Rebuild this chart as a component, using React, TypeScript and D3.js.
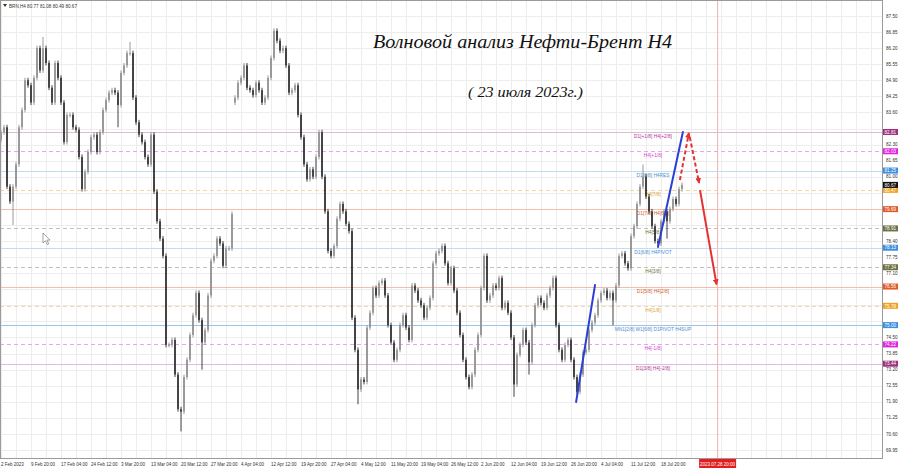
import React from "react";
import * as d3 from "d3";

// Close prices (H4 Brent), left to right
const closesFebMar = [
  82.8, 83.0, 80.6, 80.0, 80.6, 81.5, 83.0, 83.7, 84.9, 84.7,
  84.0, 85.0, 86.2, 85.3, 86.2, 85.6, 84.6, 84.0, 85.6, 85.0,
  84.0, 82.4, 83.5, 83.5, 83.0, 82.9, 81.8, 80.5, 81.2, 82.0,
  82.6, 82.7, 82.0, 82.8, 83.7, 84.1, 84.4, 84.5, 84.4, 83.9,
  85.2, 85.5, 86.0, 86.0, 84.2, 83.2, 82.7, 82.4, 81.8, 81.5,
  82.7, 80.4, 79.2, 78.5, 77.8, 74.2, 74.2, 74.4, 73.0, 71.6,
  71.5, 72.9, 73.6, 74.6, 75.4, 76.3, 75.2, 74.3, 74.8, 76.2,
  77.6, 77.8, 78.5, 78.3, 77.4, 78.1, 78.1, 79.5,
];
const closesApr = [
  84.2, 84.8, 85.0, 85.5, 84.6, 84.5, 84.3, 84.8, 84.5, 84.0,
  84.2, 85.0, 85.8, 86.9, 86.5, 86.1, 86.2, 85.5, 84.4, 84.5,
  84.7, 83.5, 82.6, 81.5, 80.9, 81.3, 81.0, 81.8, 82.8, 81.0,
  79.6, 78.0, 77.8, 78.2, 79.3, 79.9, 79.6, 79.1, 78.8,
];
const closesMayJun = [
  75.3, 74.0, 72.4, 72.8, 72.7, 74.9, 75.5, 76.5, 76.2, 76.7,
  76.8, 76.2, 75.0, 74.3, 73.6, 74.0, 75.0, 75.4, 74.9, 74.4,
  76.6, 76.4, 76.0, 75.8, 75.3, 75.7, 76.1, 77.5, 77.9, 78.0,
  78.2, 77.5, 76.7, 77.3, 76.4, 75.5, 74.6, 73.6, 72.9, 72.5,
  73.0, 74.0, 74.6, 76.5, 77.8, 76.0, 76.2, 76.6, 76.5, 76.9,
  75.7, 75.9, 75.5, 74.5, 72.6, 73.8, 74.2, 74.8, 74.3, 73.5,
  75.0, 75.8, 76.1, 75.9, 75.7, 76.2, 76.5, 76.9, 75.0, 74.0,
  73.6,
];
const closesJul = [
  74.2, 74.4, 73.6, 72.9, 72.3, 73.0, 73.9, 74.0, 74.8, 75.1,
  75.4, 76.0, 76.3, 76.4, 76.1, 76.3, 76.0, 76.6, 77.8, 77.9,
  77.5, 77.3, 78.6, 79.0, 79.9, 80.6, 81.0, 80.2, 79.6, 79.0,
  78.4, 78.3, 79.2, 79.6, 79.2, 79.7, 80.1, 79.9, 80.5, 80.67,
];
const firstOpen = 82.5;
const gapOpens: [number, number][] = [[78, 84.0]];
const wickHighs: [number, number][] = [[14, 86.65], [43, 86.45], [91, 87.0], [214, 81.5]];
const wickLows: [number, number][] = [
  [4, 79.05], [39, 83.0], [60, 70.7], [67, 73.2], [119, 71.8],
  [171, 72.1], [176, 73.0], [204, 75.0], [222, 78.5],
];

const priceTicks = [
  87.5, 86.85, 86.2, 85.55, 84.9, 84.25, 83.6, 82.95, 82.3, 81.65, 81.0, 80.35,
  79.7, 79.05, 78.4, 77.75, 77.1, 76.45, 75.8, 75.15, 74.5, 73.85, 73.2, 72.55,
  71.9, 71.25, 70.6, 69.95,
];
const timeLabels = [
  "2 Feb 2023", "9 Feb 20:00", "17 Feb 04:00", "24 Feb 12:00", "3 Mar 20:00",
  "13 Mar 04:00", "20 Mar 12:00", "27 Mar 20:00", "4 Apr 04:00", "12 Apr 12:00",
  "19 Apr 20:00", "27 Apr 04:00", "4 May 12:00", "11 May 20:00", "19 May 04:00",
  "26 May 12:00", "2 Jun 20:00", "12 Jun 04:00", "19 Jun 12:00", "26 Jun 20:00",
  "4 Jul 04:00", "11 Jul 12:00", "18 Jul 20:00",
];
const futureMarkIndex = 238.7;
const futureMarkLabel = "2023.07.28 20:00";

const levelPrices = [82.81, 82.03, 81.25, 80.47, 79.69, 78.91, 78.13, 77.34, 76.56, 75.78, 75.0, 74.22, 73.44];
const levelLabels = [
  "D1[+1/8] H4[+2/8]", "H4[+1/8]", "D1[8/8] H4RES", "H4[7/8]", "D1[7/8] H4[6/8]",
  "H4[5/8]", "D1[6/8] H4PIVOT", "H4[3/8]", "D1[5/8] H4[2/8]", "H4[1/8]",
  "MN1[2/8] W1[6/8] D1PIVOT H4SUP", "H4[-1/8]", "D1[3/8] H4[-2/8]",
];
const levelKinds = ["p", "m", "b", "o", "r", "g", "b", "g", "r", "o", "B", "m", "p"];
const currentPrice = 80.67;

// trend lines: [index1, price1, index2, price2]
const blueLines: [number, number, number, number][] = [
  [191.7, 71.89, 198.0, 76.62],
  [219.0, 78.16, 227.3, 82.81],
];
const redUp: [number, number, number, number] = [226.3, 80.87, 229.3, 82.77];
const redDownDash: [number, number, number, number] = [229.6, 82.6, 232.7, 80.75];
const redDown: [number, number, number, number] = [233.0, 80.46, 238.5, 76.65];

const kindStyle: Record<string, { line: string; box: string; text: string; dash?: string }> = {
  p: { line: "#dcbcd6", box: "#a0307e", text: "#b0359a" },
  m: { line: "#eaa6ea", box: "#e024e0", text: "#d83ad8", dash: "4,3" },
  b: { line: "#c2ddf0", box: "#3d8fe0", text: "#4a90d0" },
  B: { line: "#9cc4e8", box: "#3d8fe0", text: "#4a90d0" },
  o: { line: "#f4d6a2", box: "#f0a222", text: "#e2a232", dash: "4,3" },
  r: { line: "#f0c0ac", box: "#e25a2a", text: "#d8602c" },
  g: { line: "#c2c2ae", box: "#6c7242", text: "#6e7242", dash: "4,3" },
};

export default function App() {
  const closes = [...closesFebMar, ...closesApr, ...closesMayJun, ...closesJul];
  const n = closes.length;
  const x = d3.scaleLinear().domain([0, n - 1]).range([1, 682]);
  const y = d3.scaleLinear().domain([69.95, 87.5]).range([450, 16]);
  const plotR = 882;
  const plotB = 458;

  const bars = closes.map((c, i) => {
    let o = i === 0 ? firstOpen : closes[i - 1];
    const g = gapOpens.find((v) => v[0] === i);
    if (g) o = g[1];
    let hi = Math.max(o, c) + 0.1;
    let lo = Math.min(o, c) - 0.1;
    const wh = wickHighs.find((v) => v[0] === i);
    if (wh) hi = wh[1];
    const wl = wickLows.find((v) => v[0] === i);
    if (wl) lo = wl[1];
    return { i, o, c, hi, lo, up: c >= o };
  });

  const vGrid = d3.range(1, plotR, 15);
  const font = "Liberation Sans, Arial, sans-serif";
  const boxPrices = [...levelPrices, currentPrice];
  const visibleTicks = priceTicks.filter((p) => boxPrices.every((b) => Math.abs(y(b) - y(p)) > 5.5));

  const seg = (s: [number, number, number, number]) => ({
    x1: x(s[0]), y1: y(s[1]), x2: x(s[2]), y2: y(s[3]),
  });
  const up = seg(redUp);
  const dd = seg(redDownDash);
  const dn = seg(redDown);

  return (
    <svg width={900} height={468} style={{ position: "absolute", left: 0, top: 0, background: "#fff" }}
      xmlns="http://www.w3.org/2000/svg">
      <defs>
        <marker id="arrRed" markerWidth="6" markerHeight="6" refX="5" refY="3" orient="auto" markerUnits="userSpaceOnUse">
          <path d="M0,0 L6,3 L0,6 Z" fill="#e23232" />
        </marker>
        <clipPath id="plot"><rect x={0} y={0} width={plotR} height={plotB} /></clipPath>
      </defs>
      <rect x={0} y={0} width={900} height={468} fill="#fff" />
      {/* grid */}
      <g stroke="#ededed" strokeWidth={1}>
        {vGrid.map((gx) => (
          <line key={"v" + gx} x1={gx + 0.5} x2={gx + 0.5} y1={0} y2={plotB} />
        ))}
        {priceTicks.map((p) => (
          <line key={"h" + p} x1={0} x2={plotR} y1={Math.round(y(p)) + 0.5} y2={Math.round(y(p)) + 0.5} />
        ))}
      </g>
      {/* future marker line */}
      <line x1={x(futureMarkIndex) + 0.5} x2={x(futureMarkIndex) + 0.5} y1={0} y2={plotB} stroke="#f2b0b0" strokeWidth={1} />
      {/* levels */}
      <g clipPath="url(#plot)">
        {levelPrices.map((p, k) => {
          const st = kindStyle[levelKinds[k]];
          const ly = Math.round(y(p)) + 0.5;
          return (
            <g key={"l" + k}>
              <line x1={0} x2={plotR} y1={ly} y2={ly} stroke={st.line} strokeWidth={1} strokeDasharray={st.dash} />
              <text x={653} y={ly + 5.2} fontSize={4.8} fontFamily={font} fill={st.text} textAnchor="middle">
                {levelLabels[k]}
              </text>
            </g>
          );
        })}
      </g>
      {/* candles */}
      <g clipPath="url(#plot)">
        {bars.map((b) => {
          const cx = x(b.i);
          const col = b.up ? "#8e8e8e" : "#2e2e2e";
          const top = y(Math.max(b.o, b.c));
          const bot = y(Math.min(b.o, b.c));
          return (
            <g key={"c" + b.i}>
              <line x1={cx} x2={cx} y1={y(b.hi)} y2={y(b.lo)} stroke={col} strokeWidth={0.9} />
              <rect x={cx - 0.8} y={top} width={1.6} height={Math.max(1, bot - top)} fill={col} />
            </g>
          );
        })}
      </g>
      {/* blue trend lines */}
      {blueLines.map((s, k) => {
        const q = seg(s);
        return <line key={"bl" + k} {...q} stroke="#2a3fd6" strokeWidth={2} strokeLinecap="round" />;
      })}
      {/* red forecast */}
      <line {...up} stroke="#e23232" strokeWidth={2} strokeDasharray="4,2.5" markerEnd="url(#arrRed)" />
      <line {...dd} stroke="#e23232" strokeWidth={2} strokeDasharray="4,2.5" markerEnd="url(#arrRed)" />
      <line {...dn} stroke="#e23232" strokeWidth={2} markerEnd="url(#arrRed)" />
      {/* mouse cursor */}
      <path d="M43,233 L43,243 L45.4,240.7 L47.3,244.6 L48.8,243.9 L46.9,240.1 L50,240.1 Z" fill="#fff" stroke="#666" strokeWidth={0.6} />
      {/* title */}
      <text x={373} y={48} fontSize={19} fontStyle="italic" fontFamily="Liberation Serif, DejaVu Serif, serif" fill="#111"
        textLength={299} lengthAdjust="spacingAndGlyphs">
        Волновой анализ Нефти-Брент H4
      </text>
      <text x={468} y={97} fontSize={14} fontStyle="italic" fontFamily="Liberation Serif, DejaVu Serif, serif" fill="#111"
        textLength={115} lengthAdjust="spacingAndGlyphs">
        ( 23 июля 2023г.)
      </text>
      {/* header */}
      <path d="M3,4 L7,4 L5,7 Z" fill="#333" />
      <text x={9} y={7.6} fontSize={4.6} fontFamily={font} fill="#333">BRN,H4  80.77 81.08 80.49 80.67</text>
      {/* frame */}
      <rect x={0.5} y={0.5} width={plotR} height={plotB} fill="none" stroke="#9a9a9a" strokeWidth={1} />
      {/* right axis labels */}
      {visibleTicks.map((p) => (
        <text key={"pt" + p} x={886} y={y(p) + 1.6} fontSize={4.6} fontFamily={font} fill="#333">
          {p.toFixed(2)}
        </text>
      ))}
      {levelPrices.map((p, k) => {
        const st = kindStyle[levelKinds[k]];
        return (
          <g key={"bx" + k}>
            <rect x={883} y={y(p) - 3} width={15} height={6} fill={st.box} />
            <text x={884.5} y={y(p) + 1.7} fontSize={4.6} fontFamily={font} fill="#fff">{p.toFixed(2)}</text>
          </g>
        );
      })}
      <rect x={883} y={y(currentPrice) - 3} width={15} height={6} fill="#111" />
      <text x={884.5} y={y(currentPrice) + 1.7} fontSize={4.6} fontFamily={font} fill="#fff">{currentPrice.toFixed(2)}</text>
      {/* time labels */}
      {timeLabels.map((t, k) => (
        <text key={"t" + k} x={x(k * 10)} y={465.5} fontSize={4.5} fontFamily={font} fill="#333">{t}</text>
      ))}
      <rect x={x(futureMarkIndex) - 18} y={459} width={37} height={9} fill="#e41e1e" />
      <text x={x(futureMarkIndex) + 0.5} y={465.5} fontSize={4.5} fontFamily={font} fill="#fff" textAnchor="middle">
        {futureMarkLabel}
      </text>
    </svg>
  );
}
